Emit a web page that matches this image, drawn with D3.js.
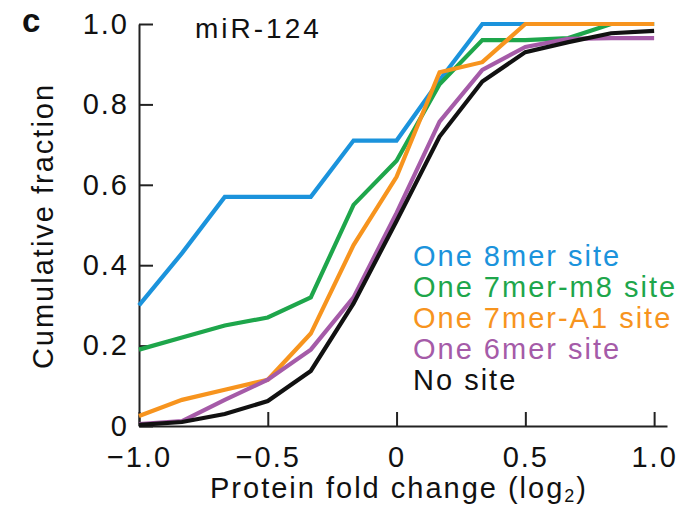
<!DOCTYPE html>
<html>
<head>
<meta charset="utf-8">
<script src="https://cdn.jsdelivr.net/npm/d3@7"></script>
<style>
  body { margin: 0; background: #fff; }
  svg text { font-family: "Liberation Sans", Arial, sans-serif; fill: #111; }
</style>
</head>
<body>
<div class="chart"></div>
<script>
// protein fold change bins (log2)
const foldChange = [-1, -0.833, -0.667, -0.5, -0.333, -0.167, 0, 0.167, 0.333, 0.5, 0.667, 0.833, 1.0];

// cumulative fraction per site type
const eightMer   = [0.30, 0.43, 0.57, 0.57, 0.57, 0.71, 0.71, 0.86, 1.0, 1.0, 1.0, 1.0, 1.0];
const sevenMerM8 = [0.19, 0.22, 0.25, 0.27, 0.32, 0.55, 0.66, 0.85, 0.96, 0.96, 0.965, 1.0, 1.0];
const sevenMerA1 = [0.025, 0.065, 0.09, 0.115, 0.23, 0.45, 0.62, 0.88, 0.905, 1.0, 1.0, 1.0, 1.0];
const sixMer     = [0.005, 0.012, 0.065, 0.115, 0.19, 0.32, 0.53, 0.757, 0.886, 0.943, 0.963, 0.965, 0.965];
const noSite     = [0.003, 0.01, 0.03, 0.062, 0.137, 0.305, 0.51, 0.72, 0.857, 0.93, 0.955, 0.977, 0.983];

const seriesNames = ["One 8mer site", "One 7mer-m8 site", "One 7mer-A1 site", "One 6mer site", "No site"];
const seriesColors = ["#1b93dc", "#1ea64b", "#f7941e", "#a55ba8", "#111111"];

const xTicks = [-1, -0.5, 0, 0.5, 1];
const yTicks = [0, 0.2, 0.4, 0.6, 0.8, 1.0];

const series = [eightMer, sevenMerM8, sevenMerA1, sixMer, noSite];

const width = 690, height = 507;

const svg = d3.select(".chart")
    .append("svg")
    .attr("width", width)
    .attr("height", height);

const xScale = d3.scaleLinear().domain([-1, 1.05]).range([139, 667]);
const yScale = d3.scaleLinear().domain([0, 1]).range([426, 24]);

const fmt = d => d === 0 ? "0" : d3.format(".1f")(d);

// axes, ticks point inward
const xAxis = svg.append("g")
    .attr("transform", "translate(0," + yScale(0) + ")")
    .call(d3.axisBottom(xScale).tickValues(xTicks).tickSizeInner(-14).tickSizeOuter(0).tickPadding(20).tickFormat(fmt));

const yAxis = svg.append("g")
    .attr("transform", "translate(" + xScale(-1) + ",0)")
    .call(d3.axisLeft(yScale).tickValues(yTicks).tickSizeInner(-14).tickSizeOuter(0).tickPadding(10).tickFormat(fmt));

[xAxis, yAxis].forEach(ax => {
    ax.selectAll("path, line").attr("stroke", "#222").attr("stroke-width", 2);
    ax.selectAll("text")
        .style("font-size", "29px")
        .style("letter-spacing", "2px")
        .attr("fill", "#111");
});

// lines
const line = d3.line()
    .x((d, i) => xScale(foldChange[i]))
    .y(d => yScale(d));

svg.selectAll(".series")
    .data(series)
    .enter()
    .append("path")
    .attr("class", "series")
    .attr("d", d => line(d))
    .attr("fill", "none")
    .attr("stroke", (d, i) => seriesColors[i])
    .attr("stroke-width", 4.2);

// legend
svg.selectAll(".legend")
    .data(seriesNames)
    .enter()
    .append("text")
    .attr("class", "legend")
    .attr("x", 413)
    .attr("y", (d, i) => 266 + i * 31)
    .style("font-size", "29px")
    .style("letter-spacing", "2px")
    .style("fill", (d, i) => seriesColors[i])
    .text(d => d);

// titles
svg.append("text")
    .attr("x", 195)
    .attr("y", 38)
    .style("font-size", "28px")
    .style("letter-spacing", "3px")
    .text("miR-124");

svg.append("text")
    .attr("x", 22)
    .attr("y", 32)
    .style("font-size", "33px")
    .style("font-weight", "bold")
    .text("c");

svg.append("text")
    .attr("transform", "translate(53,226) rotate(-90)")
    .attr("text-anchor", "middle")
    .style("font-size", "29px")
    .style("letter-spacing", "2px")
    .text("Cumulative fraction");

const xTitle = svg.append("text")
    .attr("x", 399)
    .attr("y", 498)
    .attr("text-anchor", "middle")
    .style("font-size", "29px")
    .style("letter-spacing", "2px");
xTitle.append("tspan").text("Protein fold change (log");
xTitle.append("tspan").attr("dy", 4).style("font-size", "18px").text("2");
xTitle.append("tspan").attr("dy", -4).text(")");
</script>
</body>
</html>
